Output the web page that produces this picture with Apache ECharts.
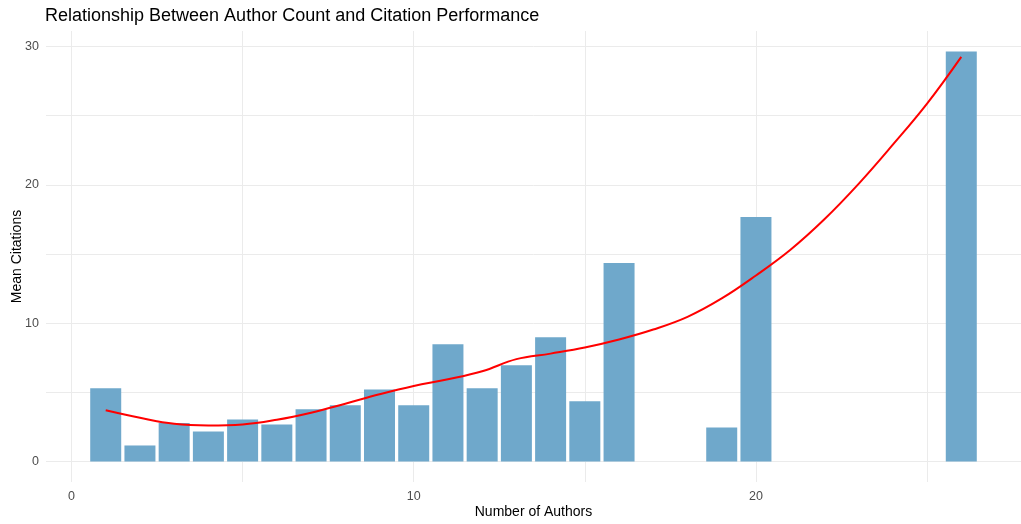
<!DOCTYPE html>
<html>
<head>
<meta charset="utf-8">
<script src="https://cdn.jsdelivr.net/npm/echarts@6/dist/echarts.min.js"></script>
<style>
html,body{margin:0;padding:0;background:#fff;}
#chart{width:1021px;height:524px;}
</style>
</head>
<body>
<div id="chart"></div>
<script>
// Data
var authorCounts = [1, 2, 3, 4, 5, 6, 7, 8, 9, 10, 11, 12, 13, 14, 15, 16, 19, 20, 26];
var meanCitations = [5.29, 1.16, 2.78, 2.17, 3.04, 2.68, 3.77, 4.06, 5.2, 4.06, 8.48, 5.29, 6.96, 8.99, 4.35, 14.35, 2.46, 17.68, 29.64];
var smoothX = [1, 2, 3, 4, 5, 6, 7, 8, 9, 10, 11, 12, 13, 14, 15, 16, 17, 18, 19, 20, 21, 22, 23, 24, 25, 26];
var smoothY = [3.7, 3.16, 2.73, 2.61, 2.68, 3.02, 3.53, 4.18, 4.86, 5.46, 5.94, 6.52, 7.4, 7.8, 8.24, 8.82, 9.54, 10.46, 11.79, 13.45, 15.29, 17.51, 20.07, 22.9, 25.87, 29.25];
var xTickLabels = [0, 10, 20];
var xGridValues = [0, 5, 10, 15, 20, 25];
var yTickLabels = [0, 10, 20, 30];
var yGridValues = [0, 5, 10, 15, 20, 25, 30];

var font = 'Liberation Sans, Arial, sans-serif';
var chart = echarts.init(document.getElementById('chart'), null, {renderer: 'canvas'});
chart.setOption({
  animation: false,
  backgroundColor: '#ffffff',
  title: {
    text: 'Relationship Between Author Count and Citation Performance',
    left: 40, top: 2,
    textStyle: {fontFamily: font, fontSize: 18, fontWeight: 'normal', color: '#000000'}
  },
  grid: {left: 46, right: 0, top: 31, bottom: 42, containLabel: false, outerBoundsMode: 'none'},
  xAxis: {
    type: 'value',
    min: -0.745, max: 27.745,
    name: 'Number of Authors',
    nameLocation: 'middle',
    nameGap: 23,
    nameMoveOverlap: false,
    nameTextStyle: {fontFamily: font, fontSize: 14, color: '#000000'},
    axisLine: {show: false},
    axisTick: {show: false, customValues: xGridValues},
    axisLabel: {customValues: xTickLabels, margin: 8, fontFamily: font, fontSize: 12.5, color: '#4d4d4d'},
    splitLine: {show: true, lineStyle: {color: '#ebebeb', width: 1}}
  },
  yAxis: {
    type: 'value',
    min: -1.48, max: 31.12,
    name: 'Mean Citations',
    nameLocation: 'middle',
    nameGap: 22,
    nameRotate: 90,
    nameMoveOverlap: false,
    nameTextStyle: {fontFamily: font, fontSize: 14, color: '#000000'},
    axisLine: {show: false},
    axisTick: {show: false, customValues: yGridValues},
    axisLabel: {customValues: yTickLabels, margin: 7, fontFamily: font, fontSize: 12.5, color: '#4d4d4d'},
    splitLine: {show: true, lineStyle: {color: '#ebebeb', width: 1}}
  },
  series: [
    {
      type: 'bar',
      data: authorCounts.map(function (a, i) { return [a, meanCitations[i]]; }),
      barWidth: 31,
      itemStyle: {color: '#6fa8cb'},
      silent: true
    },
    {
      type: 'line',
      data: smoothX.map(function (a, i) { return [a, smoothY[i]]; }),
      smooth: 0.4,
      showSymbol: false,
      lineStyle: {color: '#ff0000', width: 2},
      itemStyle: {color: '#ff0000'},
      silent: true
    }
  ]
});
</script>
</body>
</html>
